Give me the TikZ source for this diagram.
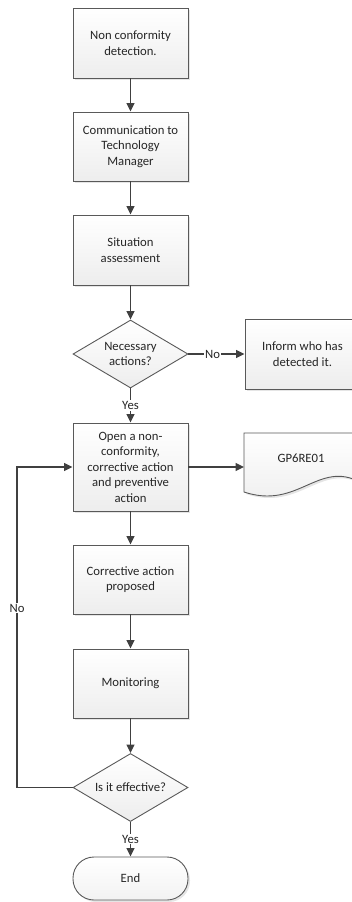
\documentclass[tikz,border=0pt]{standalone}
\usepackage{fontspec}
\setmainfont{Carlito}
\usetikzlibrary{shapes.geometric,arrows.meta,shadows}
\definecolor{linegray}{HTML}{404040}
\definecolor{edgegray}{HTML}{595959}
\definecolor{textgray}{HTML}{262626}
\tikzset{
    flowbox/.style={rectangle, draw=edgegray, line width=0.9pt, top color=white, bottom color=gray!14,
        minimum width=115pt, minimum height=70pt, align=center, text=textgray,
        drop shadow={shadow xshift=2pt, shadow yshift=-2pt, fill=gray!40, opacity=0.5}},
    decision/.style={diamond, draw=edgegray, line width=0.9pt, top color=white, bottom color=gray!14,
        minimum width=115pt, minimum height=68pt, aspect=1.7, inner sep=0pt, align=center, text=textgray},
    flowline/.style={draw=linegray, line width=1.3pt, -{Triangle[width=8pt,length=8.5pt]}},
    tag/.style={fill=white, inner sep=1pt, text=textgray}
}
\begin{document}
\begin{tikzpicture}[x=1pt, y=1pt, font=\fontsize{12.7}{15.5}\selectfont]
    \useasboundingbox (0,0) rectangle (351,-902);

    % main column
    \node[flowbox] (detect) at (130.5,-43) {Non conformity\\detection.};
    \node[flowbox, minimum height=69pt] (comm) at (130.5,-146.5) {Communication to\\Technology\\Manager};
    \node[flowbox] (assess) at (130.5,-250) {Situation\\assessment};
    \node[decision] (need) at (130.5,-354) {Necessary\\actions?};
    \node[flowbox] (inform) at (302.5,-354) {Inform who has\\detected it.};
    \node[flowbox, minimum height=88pt] (open) at (130.5,-467) {Open a non-\\conformity,\\corrective action\\and preventive\\action};
    \node[flowbox, minimum height=69pt] (propose) at (130.5,-579.5) {Corrective action\\proposed};
    \node[flowbox, minimum height=69pt] (monitor) at (130.5,-683.5) {Monitoring};
    \node[decision] (effect) at (130.5,-787.5) {Is it effective?};
    \node[rectangle, draw=edgegray, line width=0.9pt, rounded corners=21pt, top color=white, bottom color=gray!10,
        minimum width=115pt, minimum height=43pt, text=textgray,
        drop shadow={shadow xshift=2pt, shadow yshift=-2pt, fill=gray!40, opacity=0.5}] (finish) at (130.5,-878.5) {End};

    % record document
    \fill[gray!40, opacity=0.5] (246,-435) -- (362,-435) -- (362,-484)
        .. controls (320,-462) and (300,-512) .. (246,-494) -- cycle;
    \draw[draw=edgegray, line width=0.9pt, top color=white, bottom color=gray!14] (244,-433) -- (360,-433) -- (360,-482)
        .. controls (318,-460) and (298,-510) .. (244,-492) -- cycle;
    \node[text=textgray] (record) at (301,-458) {GP6RE01};
    \coordinate (docin) at (244,-467);

    % connectors
    \draw[flowline] (detect) -- (comm);
    \draw[flowline] (comm) -- (assess);
    \draw[flowline] (assess) -- (need);
    \draw[flowline] (need) -- node[tag, pos=0.43] {No} (inform);
    \draw[flowline] (need) -- node[tag] {Yes} (open);
    \draw[flowline] (open.east) -- (docin);
    \draw[flowline] (open) -- (propose);
    \draw[flowline] (propose) -- (monitor);
    \draw[flowline] (monitor) -- (effect);
    \draw[flowline] (effect) -- node[tag] {Yes} (finish);
    \coordinate (loop) at (17,-787.5);
    \draw[flowline] (effect.west) -- (loop) |- node[tag, pos=0.28] {No} (open.west);
\end{tikzpicture}
\end{document}
